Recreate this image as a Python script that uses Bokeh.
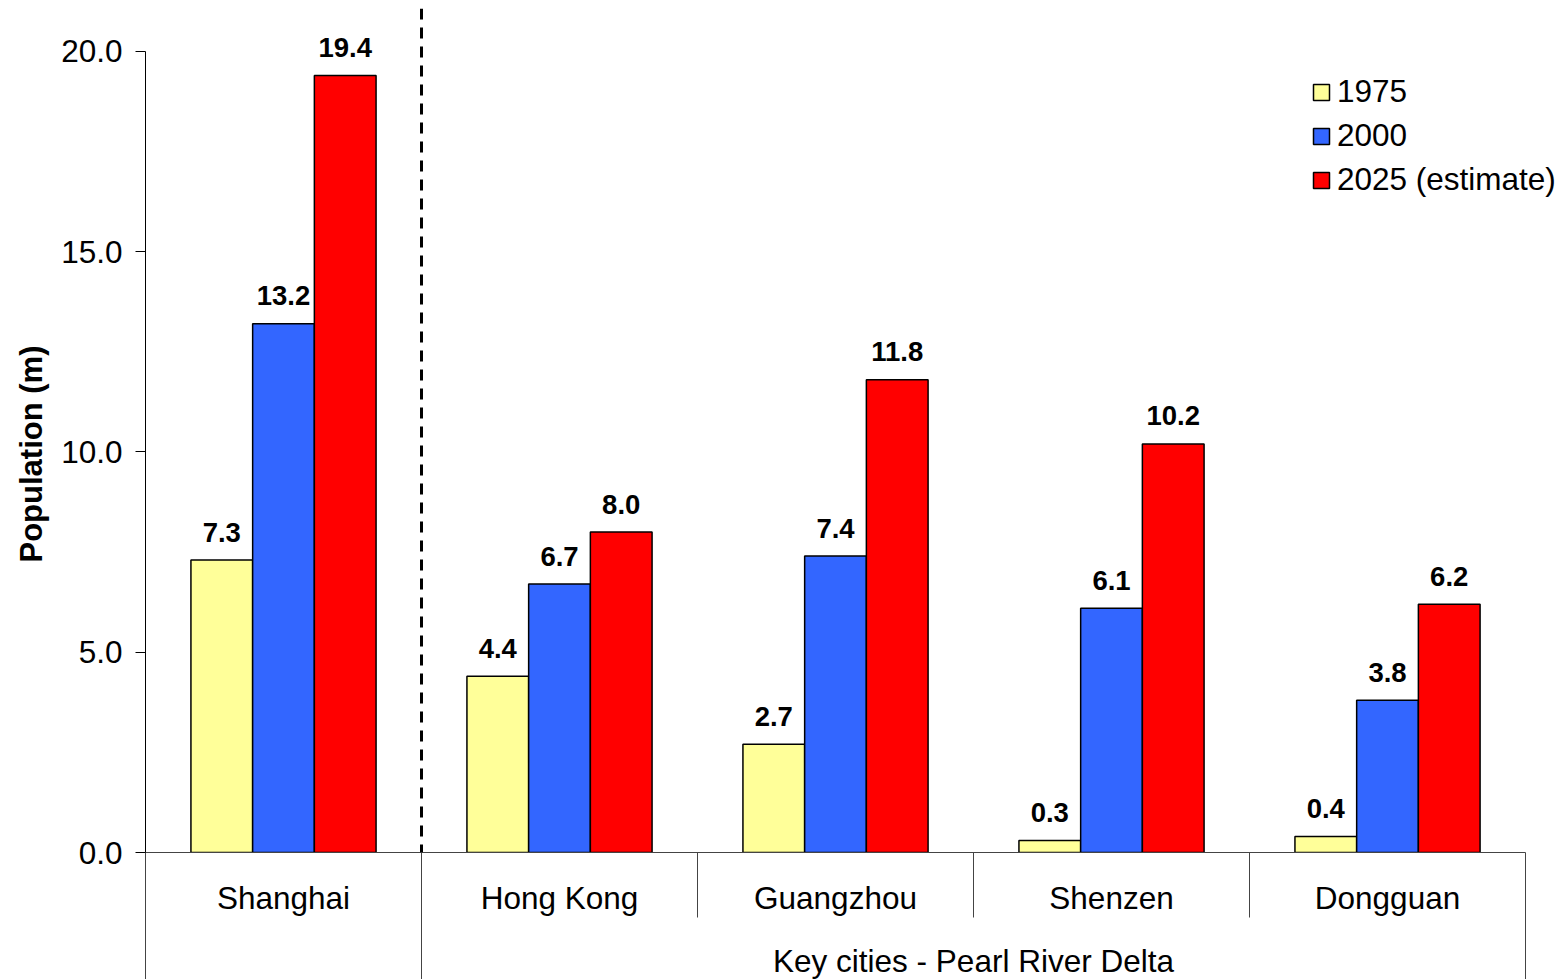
from bokeh.plotting import figure
from bokeh.models import (ColumnDataSource, Range1d, LinearAxis, FixedTicker, Span,
                          Legend, LegendItem, NumeralTickFormatter, Title)
from bokeh.transform import dodge
from bokeh.core.properties import value
from bokeh.embed import file_html
from bokeh.resources import INLINE

cities = ["Shanghai", "Hong Kong", "Guangzhou", "Shenzen", "Dongguan"]
pop_1975 = [7.3, 4.4, 2.7, 0.3, 0.4]
pop_2000 = [13.2, 6.7, 7.4, 6.1, 3.8]
pop_2025 = [19.4, 8.0, 11.8, 10.2, 6.2]
series_names = ["1975", "2000", "2025 (estimate)"]
series_colors = ["#FFFF99", "#3366FF", "#FF0000"]
group_label = "Key cities - Pearl River Delta"
group_members = cities[1:]
y_ticks = [0, 5, 10, 15, 20]

FONT = "Liberation Sans"
FS = "31.5px"
n = len(cities)
centers = [i + 0.5 for i in range(n)]

src = ColumnDataSource(dict(
    x=centers,
    v1975=pop_1975, v2000=pop_2000, v2025=pop_2025,
    l1975=[f"{v:.1f}" for v in pop_1975],
    l2000=[f"{v:.1f}" for v in pop_2000],
    l2025=[f"{v:.1f}" for v in pop_2025],
))

p = figure(frame_width=1417, frame_height=844,
           x_range=Range1d(0, 5.134), y_range=Range1d(0, 21.07),
           x_axis_type=None, y_axis_type=None,
           output_backend="svg", toolbar_location=None,
           min_border_left=145, min_border_right=0,
           min_border_top=8, min_border_bottom=0)
p.outline_line_color = None
p.xgrid.visible = False
p.ygrid.visible = False

# y axis
yax = LinearAxis(ticker=FixedTicker(ticks=y_ticks, minor_ticks=[]),
                 formatter=NumeralTickFormatter(format="0.0"),
                 bounds=(0, 20))
yax.major_tick_in = 0
yax.major_tick_out = 10
yax.minor_tick_out = 0
yax.minor_tick_in = 0
yax.major_label_standoff = 13
yax.major_label_text_font = FONT
yax.major_label_text_font_size = FS
yax.major_label_text_color = "black"
yax.axis_line_color = "black"
yax.major_tick_line_color = "black"
p.add_layout(yax, "left")

ytitle = Title(text="Population (m)", align="left", offset=290, standoff=20,
               text_font=FONT, text_font_size="31px", text_font_style="bold",
               text_color="black")
p.add_layout(ytitle, "left")

# x axis level 1: city names, separators as minor ticks
bounds_all = list(range(n + 1))
xax1 = LinearAxis(ticker=FixedTicker(ticks=centers, minor_ticks=bounds_all),
                  bounds=(0, n))
xax1.major_label_overrides = {c: name for c, name in zip(centers, cities)}
xax1.major_tick_out = 0
xax1.major_tick_in = 0
xax1.minor_tick_in = 0
xax1.minor_tick_out = 65
xax1.minor_tick_line_color = "#444444"
xax1.axis_line_color = "#444444"
xax1.major_label_standoff = -38
xax1.major_label_text_font = FONT
xax1.major_label_text_font_size = FS
xax1.major_label_text_color = "black"
p.add_layout(xax1, "below")

# x axis level 2: group label
g_start = cities.index(group_members[0])
g_end = g_start + len(group_members)
g_center = (g_start + g_end) / 2
xax2 = LinearAxis(ticker=FixedTicker(ticks=[g_center], minor_ticks=[0, g_start, g_end]),
                  bounds=(0, n))
xax2.major_label_overrides = {g_center: group_label}
xax2.major_tick_out = 0
xax2.major_tick_in = 0
xax2.minor_tick_in = 12
xax2.minor_tick_out = 80
xax2.minor_tick_line_color = "#444444"
xax2.axis_line_color = None
xax2.major_label_standoff = -56
xax2.major_label_text_font = FONT
xax2.major_label_text_font_size = FS
xax2.major_label_text_color = "black"
p.add_layout(xax2, "below")

# bars
bw = 0.2236
offsets = [-bw, 0.0, bw]
fields = ["v1975", "v2000", "v2025"]
lfields = ["l1975", "l2000", "l2025"]
items = []
for name, col, f, lf, off in zip(series_names, series_colors, fields, lfields, offsets):
    r = p.vbar(x=dodge("x", off, range=p.x_range), top=f, width=bw, bottom=0,
               source=src, fill_color=col, line_color="black", line_width=1.5)
    p.text(x=dodge("x", off, range=p.x_range), y=f, text=lf, source=src,
           text_align="center", text_baseline="alphabetic", y_offset=-28,
           text_font=value(FONT), text_font_size="27.5px", text_font_style="bold",
           text_color="black")
    items.append(LegendItem(label=name, renderers=[r]))

# dashed separator between Shanghai and Pearl River Delta cities
p.add_layout(Span(location=g_start, dimension="height", line_color="black",
                  line_width=3, line_dash="11 8"))

legend = Legend(items=items, location=(1166, 654), orientation="vertical")
legend.background_fill_alpha = 0
legend.border_line_color = None
legend.padding = 0
legend.margin = 0
legend.spacing = 7
legend.glyph_width = 20
legend.glyph_height = 20
legend.label_standoff = 6
legend.label_text_font = FONT
legend.label_text_font_size = FS
legend.label_text_color = "black"
p.add_layout(legend, "center")

open("out.html", "w").write(file_html(p, INLINE))
